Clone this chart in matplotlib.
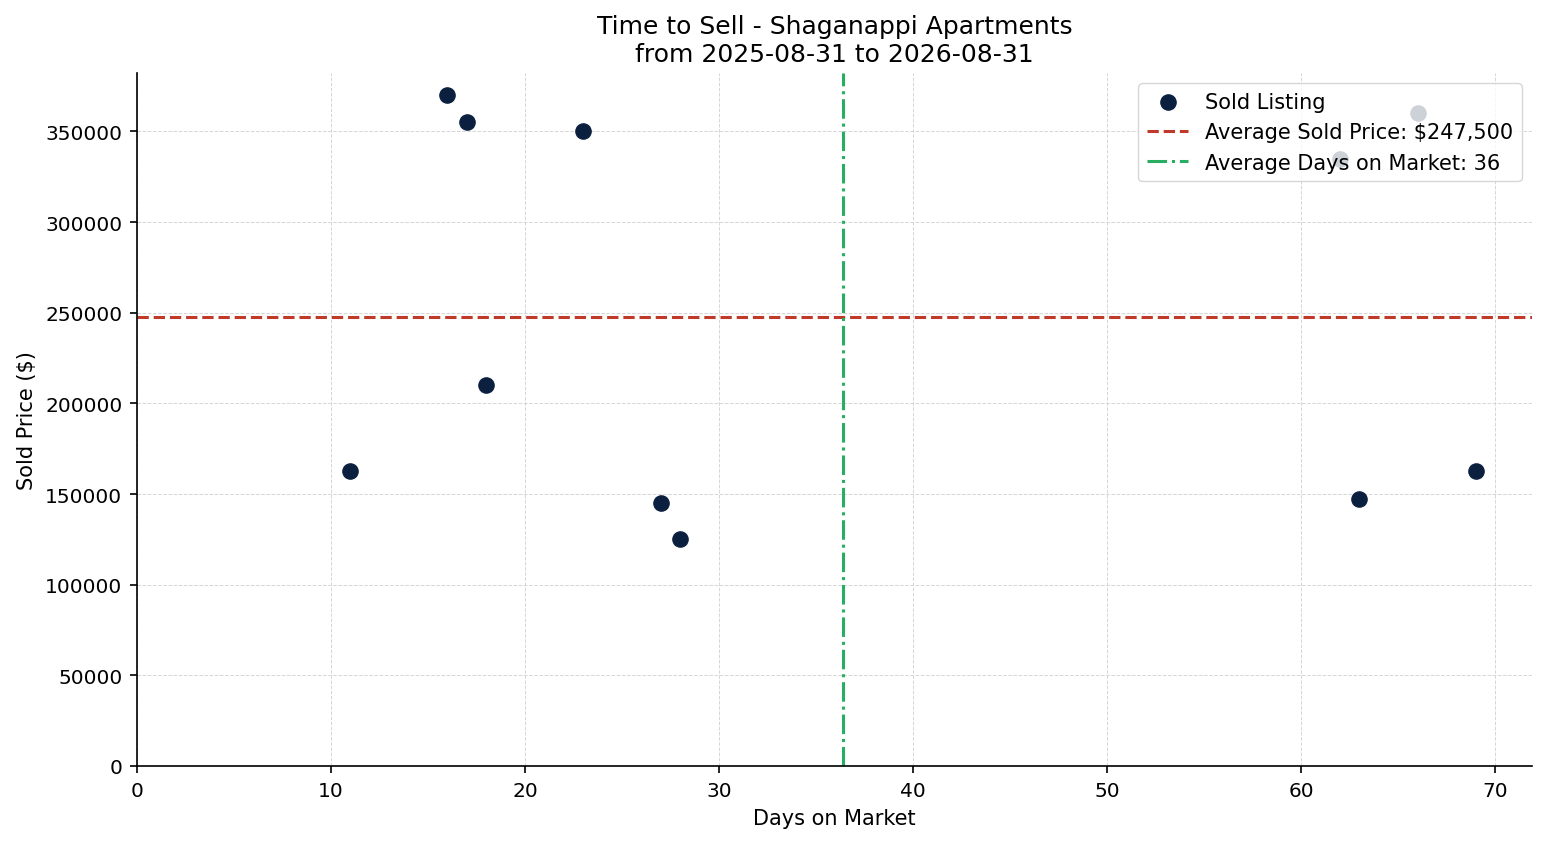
import matplotlib
matplotlib.use("Agg")
import matplotlib.pyplot as plt
import numpy as np

days = [11, 16, 17, 18, 23, 27, 28, 62, 63, 66, 69]
prices = [162500, 370000, 355000, 210000, 350000, 145000, 125000, 335000, 147500, 360000, 162500]

avg_price = np.mean(prices)
avg_days = np.mean(days)

fig = plt.figure(figsize=(15.47, 8.45), dpi=100)
ax = fig.add_axes([137/1547, 1-767/845, (1532-137)/1547, (767-74)/845])

ax.scatter(days, prices, s=120, color="#0b1f3f", label="Sold Listing", zorder=3)
ax.axhline(avg_price, color="#c0392b", linestyle="--", linewidth=2.2,
           label=f"Average Sold Price: ${avg_price:,.0f}")
ax.axvline(avg_days, color="#27ae60", linestyle="-.", linewidth=2.2,
           label=f"Average Days on Market: {avg_days:.0f}")

ax.set_xlim(left=0)
ax.set_ylim(bottom=0)
ax.grid(True, linestyle="--", linewidth=0.7, color="#cccccc", alpha=0.8)
ax.set_axisbelow(True)
for s in ["top", "right"]:
    ax.spines[s].set_visible(False)
for s in ["left", "bottom"]:
    ax.spines[s].set_linewidth(1.2)
ax.tick_params(labelsize=14.5, width=1.2, length=5.25, pad=5.25)
ax.set_xlabel("Days on Market", fontsize=15, labelpad=6)
ax.set_ylabel("Sold Price ($)", fontsize=15, labelpad=6)
ax.set_title("Time to Sell - Shaganappi Apartments\nfrom 2025-08-31 to 2026-08-31", fontsize=18, pad=9)
ax.legend(loc="upper right", fontsize=15, framealpha=0.8)

fig.savefig("out.png", dpi=100)
